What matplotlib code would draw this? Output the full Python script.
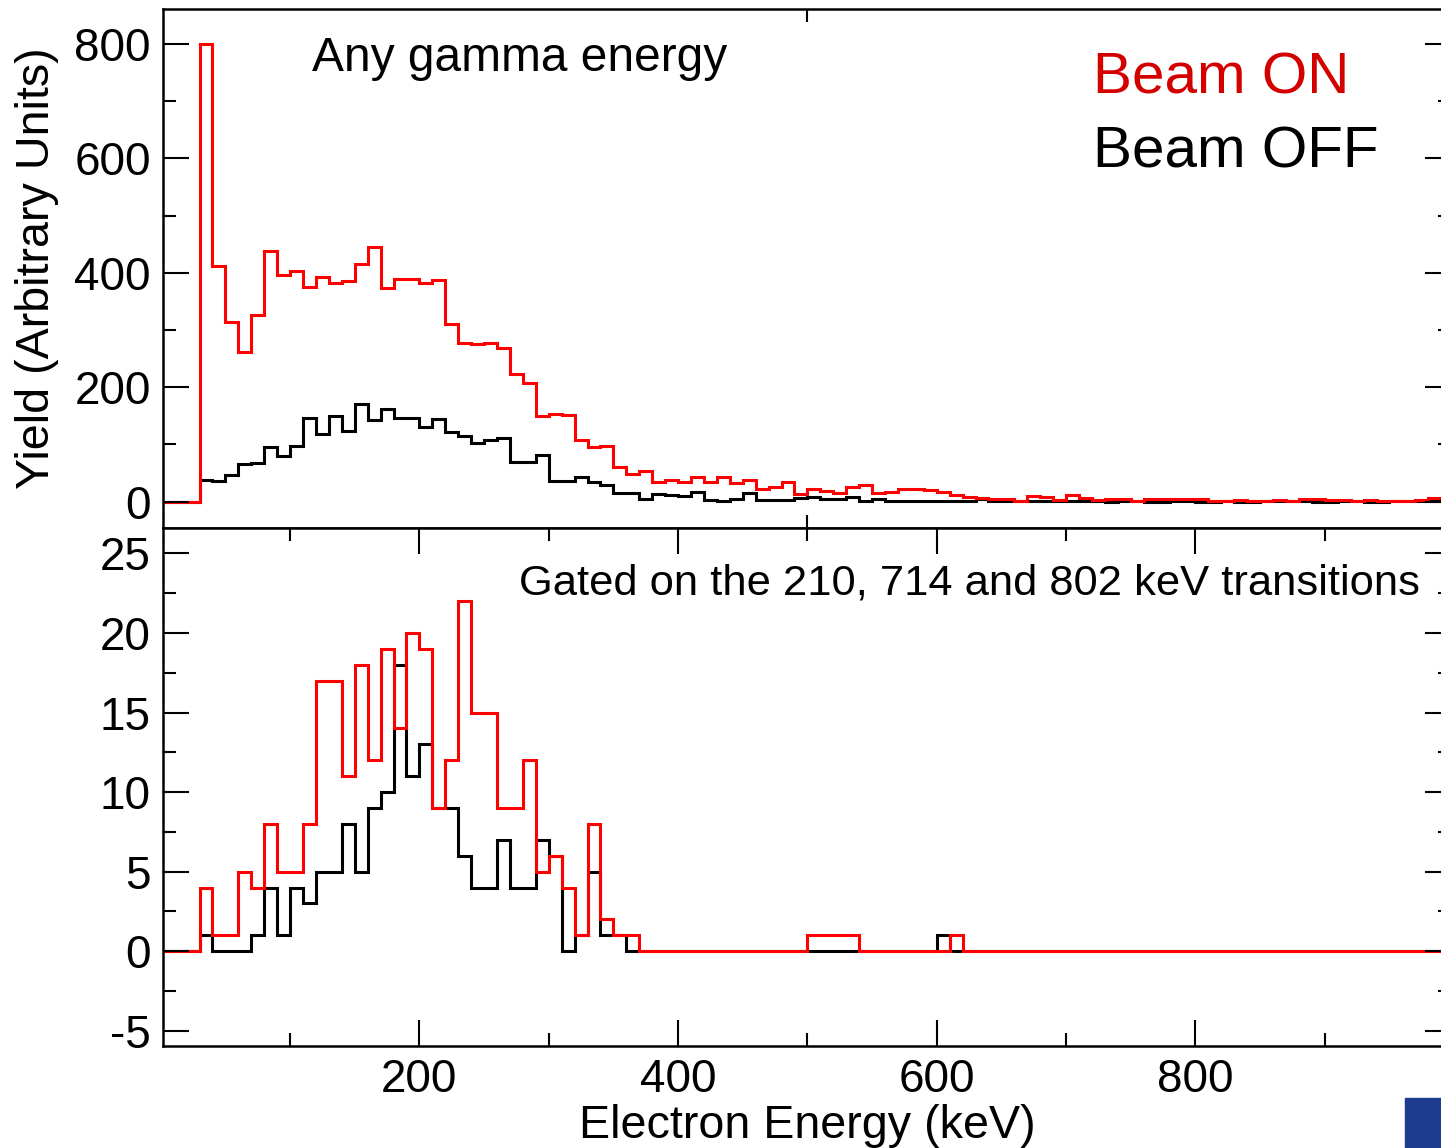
import matplotlib
matplotlib.use("Agg")
import matplotlib.pyplot as plt
import numpy as np
from matplotlib.ticker import MultipleLocator
from matplotlib.patches import Rectangle

plt.rcParams["font.family"] = ["Liberation Sans", "DejaVu Sans"]
plt.rcParams["axes.unicode_minus"] = False

# bin edges in keV (10 keV bins starting at 30 keV)
bin_edges = np.arange(30, 1000, 10)

# top panel: any gamma energy
any_on = [800, 412, 314, 262, 327, 438, 397, 403, 376, 393,
          383, 385, 416, 445, 374, 389, 389, 382, 387, 311,
          278, 275, 277, 268, 223, 208, 150, 154, 151, 108,
          95, 98, 61, 48, 54, 34, 38, 35, 43, 34,
          44, 33, 38, 22, 26, 35, 13.5, 23, 19, 14.6,
          26, 29, 16, 16.5, 23, 23, 20.5, 16.5, 11.7, 7.6,
          5.8, 4, 4, 1.2, 10, 8.7, 3, 11.7, 6, 3,
          5, 5, 1, 5, 5, 5, 4, 4, 2, 1,
          2.5, 0.5, 1, 3, 1, 5, 5, 3, 2.5, 0.5,
          2.5, 1, 1, 0.5, 3, 6]
any_off = [38, 37, 47, 66, 67, 96, 80, 98, 146, 118,
           150, 124, 170, 143, 162, 146, 147, 131, 145, 121,
           114, 102, 107, 111, 70, 70, 82, 37, 36, 43,
           35, 30, 16, 15, 5, 13.5, 12, 10, 17.5, 3,
           2, 4, 14.6, 3, 3, 3, 5.8, 7.6, 5, 5,
           7.6, 0.5, 5, 2, 0.5, 1, 1, 2, 2, 2,
           5, 0.5, 1, 0.5, 0.5, 0.5, 1, 0.5, 1, 1,
           0, 1, 0.5, 0, 0, 1, 0.5, 0, 0, 0.5,
           0, 0, 0.5, 0.5, 1, 0.5, 0, 0, 0.5, 0.5,
           0, 0, 0.5, 0.5, 1, 1]

# bottom panel: gated on 210, 714 and 802 keV
gated_on = [4, 1, 1, 5, 4, 8, 5, 5, 8, 17,
            17, 11, 18, 12, 19, 14, 20, 19, 9, 12,
            22, 15, 15, 9, 9, 12, 5, 6, 4, 1,
            8, 2, 1, 1, 0, 0, 0, 0, 0, 0,
            0, 0, 0, 0, 0, 0, 0, 1, 1, 1,
            1, 0, 0, 0, 0, 0, 0, 0, 1, 0,
            0, 0, 0, 0, 0, 0, 0, 0, 0, 0,
            0, 0, 0, 0, 0, 0, 0, 0, 0, 0,
            0, 0, 0, 0, 0, 0, 0, 0, 0, 0,
            0, 0, 0, 0, 0, 0]
gated_off = [1, 0, 0, 0, 1, 4, 1, 4, 3, 5,
             5, 8, 5, 9, 10, 18, 11, 13, 9, 9,
             6, 4, 4, 7, 4, 4, 7, 6, 0, 1,
             5, 1, 1, 0, 0, 0, 0, 0, 0, 0,
             0, 0, 0, 0, 0, 0, 0, 0, 0, 0,
             0, 0, 0, 0, 0, 0, 0, 1, 0, 0,
             0, 0, 0, 0, 0, 0, 0, 0, 0, 0,
             0, 0, 0, 0, 0, 0, 0, 0, 0, 0,
             0, 0, 0, 0, 0, 0, 0, 0, 0, 0,
             0, 0, 0, 0, 0, 0]

W, H = 1441, 1148
fig = plt.figure(figsize=(W / 100, H / 100), dpi=100)


def px_axes(l, t, r, b):
    return fig.add_axes([l / W, 1 - b / H, (r - l) / W, (b - t) / H])


ax1 = px_axes(163.3, 9, 1451, 527.7)
ax2 = px_axes(163.3, 527.7, 1451, 1046)

edges = np.r_[0, bin_edges]
lw = 2.2
for ax, off, on in [(ax1, any_off, any_on), (ax2, gated_off, gated_on)]:
    ax.stairs(np.r_[0, off], edges, baseline=None, color="black", lw=lw)
    ax.stairs(np.r_[0, on], edges, baseline=None, color="#ff0000", lw=lw)
    ax.set_xlim(2, 997.6)
    for s in ax.spines.values():
        s.set_linewidth(1.8)
    ax.tick_params(which="both", direction="in", left=True, right=True,
                   top=True, bottom=True, width=1.5, labelsize=33, pad=9)
    ax.tick_params(which="major", length=18.7)
    ax.tick_params(which="minor", length=9.4)

ax1.set_ylim(-45.4, 861)
ax1.yaxis.set_major_locator(MultipleLocator(200))
ax1.yaxis.set_minor_locator(MultipleLocator(100))
ax1.set_xticks([500])
ax1.tick_params(axis="x", which="major", length=9.4, labelbottom=False)
ax1.set_ylabel("Yield (Arbitrary Units)", fontsize=33.6, labelpad=11)

ax2.set_ylim(-5.96, 26.62)
ax2.yaxis.set_major_locator(MultipleLocator(5))
ax2.yaxis.set_minor_locator(MultipleLocator(2.5))
ax2.xaxis.set_major_locator(MultipleLocator(200))
ax2.xaxis.set_minor_locator(MultipleLocator(100))
ax2.set_xlabel("Electron Energy (keV)", fontsize=33.6, labelpad=1)

fig.text(312 / W, 1 - 71 / H, "Any gamma energy", fontsize=34.5, va="baseline")
fig.text(519 / W, 1 - 595 / H, "Gated on the 210, 714 and 802 keV transitions",
         fontsize=31.3, va="baseline")
fig.text(1093 / W, 1 - 94 / H, "Beam ON", fontsize=42, color="#d40000", va="baseline")
fig.text(1093 / W, 1 - 168 / H, "Beam OFF", fontsize=42, color="black", va="baseline")

# corner logo fragment
fig.patches.append(Rectangle((1405 / W, 0), 36 / W, 50 / H, transform=fig.transFigure,
                             color="#1d3c8f", zorder=5))

fig.savefig("out.png", dpi=100)
